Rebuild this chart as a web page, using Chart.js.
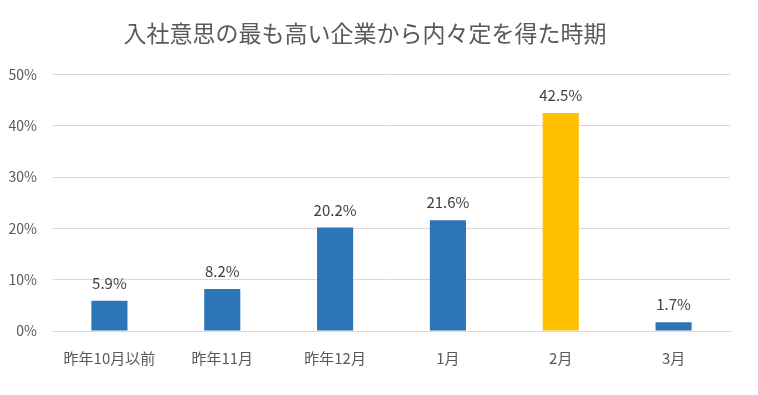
<!DOCTYPE html>
<html lang="ja">
<head>
  <meta charset="UTF-8">
  <title>内々定を得た時期</title>
  <script src="https://cdn.jsdelivr.net/npm/chart.js"></script>
  <style>
    * { margin: 0; padding: 0; box-sizing: border-box; }
    body { background: #fff; width: 758px; height: 395px; overflow: hidden; }
    .chart-box { position: relative; width: 758px; height: 395px; }
  </style>
</head>
<body>
  <div class="chart-box">
    <canvas id="chart"></canvas>
  </div>

  <script>
    // Data
    const categories = ['昨年10月以前', '昨年11月', '昨年12月', '1月', '2月', '3月'];
    const shares = [5.9, 8.2, 20.2, 21.6, 42.5, 1.7];
    const barColors = ['#2E75B6', '#2E75B6', '#2E75B6', '#2E75B6', '#FFC000', '#2E75B6'];
    const yTicks = [0, 10, 20, 30, 40, 50];

    const fontFamily = "'Noto Sans CJK JP', 'Noto Sans', sans-serif";

    // Value labels above each bar
    const valueLabels = {
      id: 'valueLabels',
      afterDatasetsDraw(chart) {
        const { ctx } = chart;
        const meta = chart.getDatasetMeta(0);
        ctx.save();
        ctx.font = `15px ${fontFamily}`;
        ctx.fillStyle = '#404040';
        ctx.textAlign = 'center';
        ctx.textBaseline = 'bottom';
        meta.data.forEach((bar, i) => {
          ctx.fillText(shares[i].toFixed(1) + '%', bar.x, bar.y - 10);
        });
        ctx.restore();
      }
    };

    new Chart(document.getElementById('chart'), {
      type: 'bar',
      data: {
        labels: categories,
        datasets: [{
          data: shares,
          backgroundColor: barColors,
          barPercentage: 0.32,
          categoryPercentage: 1
        }]
      },
      options: {
        responsive: true,
        maintainAspectRatio: false,
        animation: false,
        layout: { padding: { top: 0, right: 28, bottom: 0, left: 0 } },
        plugins: {
          legend: { display: false },
          tooltip: { enabled: false },
          title: {
            display: true,
            text: '入社意思の最も高い企業から内々定を得た時期',
            color: '#595959',
            font: { family: fontFamily, size: 23, weight: 'normal' },
            padding: { top: 19, bottom: 28 }
          }
        },
        scales: {
          x: {
            grid: { display: false },
            border: { color: '#D9D9D9' },
            afterFit(scale) { scale.height = 64; },
            ticks: {
              color: '#595959',
              font: { family: fontFamily, size: 15 },
              padding: 10,
              maxRotation: 0
            }
          },
          y: {
            min: 0,
            max: 50,
            afterBuildTicks(scale) {
              scale.ticks = yTicks.map(v => ({ value: v }));
            },
            afterFit(scale) { scale.width = 53; },
            grid: { color: '#D9D9D9', drawTicks: false },
            border: { display: false },
            ticks: {
              color: '#595959',
              font: { family: fontFamily, size: 14 },
              padding: 16,
              callback: v => v + '%'
            }
          }
        }
      },
      plugins: [valueLabels]
    });
  </script>
</body>
</html>
